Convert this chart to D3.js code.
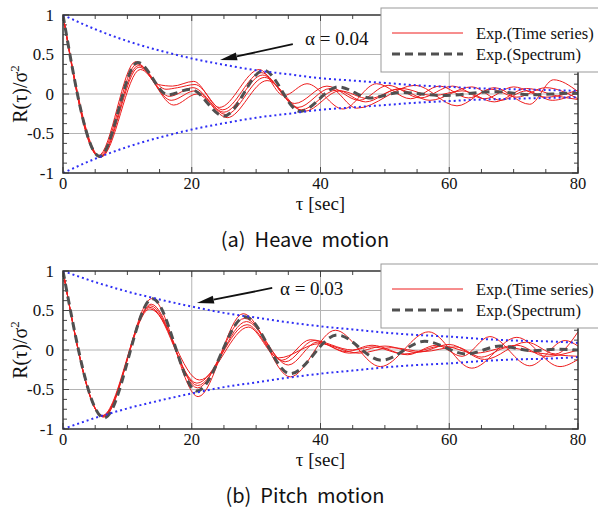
<!DOCTYPE html>
<html>
<head>
<meta charset="utf-8">
<script src="https://cdn.jsdelivr.net/npm/d3@7"></script>
<style>
  body { margin: 0; background: #fff; }
  svg { display: block; }
</style>
</head>
<body>
<svg width="598" height="508"></svg>
<script>
// axis ticks
const tauTicks = [0, 20, 40, 60, 80];
const rTicks = [-1, -0.5, 0, 0.5, 1];
const tauMinor = [0, 5, 10, 15, 20, 25, 30, 35, 40, 45, 50, 55, 60, 65, 70, 75, 80];
const rMinor = [-1, -0.875, -0.75, -0.625, -0.5, -0.375, -0.25, -0.125, 0, 0.125, 0.25, 0.375, 0.5, 0.625, 0.75, 0.875, 1];

// envelope
const envTau = [0, 5, 10, 15, 20, 25, 30, 35, 40, 45, 50, 55, 60, 65, 70, 75, 80];
const heaveEnvelope = [1, 0.82, 0.67, 0.55, 0.45, 0.37, 0.30, 0.25, 0.20, 0.17, 0.14, 0.11, 0.09, 0.07, 0.06, 0.05, 0.04];
const pitchEnvelope = [1, 0.86, 0.74, 0.64, 0.55, 0.47, 0.41, 0.35, 0.30, 0.26, 0.22, 0.19, 0.17, 0.14, 0.12, 0.11, 0.09];

// heave: [tau, R] at the turning points
const heaveSpectrum = [[0,1],[5.7,-0.79],[11.6,0.40],[16.3,-0.01],[19.8,0.06],[25,-0.28],[31.2,0.30],[36.8,-0.22],[42.8,0.09],[47.7,-0.05],[52.4,0.02],[59,-0.02],[67,0.03],[73,-0.01],[79,0.01],[80,0.01]];
const heaveSeries = [
  [[0,1],[5.5,-0.78],[11.3,0.41],[14.8,0.12],[17,0.10],[20.3,0.16],[24.3,-0.17],[30.5,0.31],[34.3,-0.02],[37.9,0.13],[43.5,-0.19],[48.7,0.13],[54,-0.06],[58.5,0.10],[63,-0.05],[67,0.08],[72.5,-0.13],[76.2,0.18],[80,0.03]],
  [[0,1],[5.6,-0.79],[11.5,0.38],[16,0.06],[17.8,0.08],[20.5,0.12],[24.8,-0.20],[30.8,0.27],[36,-0.12],[41,0.10],[46,-0.08],[50.5,0.11],[55.5,-0.05],[60.5,0.10],[65.5,-0.06],[70,0.09],[75,-0.04],[80,0.05]],
  [[0,1],[5.7,-0.80],[11.7,0.36],[16.5,-0.03],[20.2,0.08],[25,-0.23],[31,0.24],[36.5,-0.17],[41.5,0.07],[45.6,-0.18],[54.7,0.11],[61.2,-0.15],[66.5,0.06],[70.5,-0.04],[75,0.08],[80,-0.06]],
  [[0,1],[5.8,-0.80],[11.8,0.34],[16.8,-0.08],[20.5,0.04],[25.3,-0.26],[31.3,0.21],[37,-0.20],[42.5,0.05],[47,-0.10],[52,0.06],[57,-0.08],[63.5,0.09],[68,-0.08],[72,0.04],[76,-0.08],[80,0.02]],
  [[0,1],[5.9,-0.80],[12,0.31],[17.2,-0.14],[20.8,0.00],[25.5,-0.30],[31.7,0.17],[37.5,-0.22],[43,0.04],[47.5,-0.06],[52.5,0.07],[57.5,-0.02],[62,0.04],[67,-0.10],[72,0.07],[77,-0.03],[80,-0.07]]
];

// pitch
const pitchSpectrum = [[0,1],[6.4,-0.86],[13.9,0.65],[20.8,-0.52],[28.3,0.42],[35.3,-0.30],[42.6,0.19],[49.5,-0.13],[56.2,0.11],[62.7,-0.05],[67.9,0.05],[73,-0.01],[76.5,0.01],[80,0]];
const pitchSeries = [
  [[0,1],[6.3,-0.85],[13.8,0.65],[21,-0.59],[28,0.46],[35.3,-0.34],[42.3,0.25],[49.3,-0.21],[56.8,0.23],[63.5,-0.23],[70.5,0.16],[77.2,-0.21],[80,-0.12]],
  [[0,1],[6.2,-0.84],[13.7,0.58],[20.9,-0.48],[28.2,0.40],[35,-0.19],[39.5,0.10],[44,-0.02],[48,0.06],[53.5,-0.06],[58,0.06],[62,-0.08],[66.3,0.17],[72.5,-0.20],[78,0.12],[80,0.05]],
  [[0,1],[6.2,-0.83],[13.6,0.56],[20.9,-0.45],[28.5,0.36],[34.5,-0.15],[39,0.12],[44.5,-0.04],[50,0.05],[55,-0.03],[60,0.07],[65.5,-0.12],[72,0.10],[76.5,-0.05],[80,0.23]],
  [[0,1],[6.1,-0.83],[13.5,0.54],[20.8,-0.42],[28.6,0.32],[34,-0.13],[38.4,0.13],[45,0.00],[48,0.04],[53,-0.05],[59,0.05],[64,-0.04],[70.5,0.06],[75,-0.08],[80,0.00]],
  [[0,1],[6.2,-0.84],[13.5,0.52],[21.2,-0.38],[28.8,0.29],[33.5,-0.10],[39.8,0.08],[46,-0.04],[51,0.03],[56,-0.02],[61,0.04],[65,-0.09],[69,0.03],[74,-0.04],[80,-0.08]]
];

const legendLabels = ["Exp.(Time series)", "Exp.(Spectrum)"];

const panels = [
  { top: 15, caption: "(a)  Heave  motion", spectrum: heaveSpectrum, series: heaveSeries, envelope: heaveEnvelope,
    alpha: "α = 0.04", alphaAt: [37.6, 0.62], arrowFrom: [35.7, 0.63], arrowTo: [24.4, 0.43] },
  { top: 271, caption: "(b)  Pitch  motion", spectrum: pitchSpectrum, series: pitchSeries, envelope: pitchEnvelope,
    alpha: "α = 0.03", alphaAt: [33.7, 0.70], arrowFrom: [32.5, 0.785], arrowTo: [20.8, 0.595] }
];

const svg = d3.select("svg");
const left = 63, right = 578, plotH = 158;
const serif = "'Liberation Serif', 'Times New Roman', serif";

const x = d3.scaleLinear().domain([0, 80]).range([left, right]);

panels.forEach((p, i) => {
  const y = d3.scaleLinear().domain([-1, 1]).range([p.top + plotH, p.top]);
  const g = svg.append("g");

  g.append("clipPath").attr("id", "clip" + i)
    .append("rect").attr("x", left).attr("y", p.top).attr("width", right - left).attr("height", plotH);

  // grid
  g.append("g").selectAll("line").data(tauTicks.slice(1, -1)).enter().append("line")
    .attr("x1", d => x(d)).attr("x2", d => x(d)).attr("y1", p.top).attr("y2", p.top + plotH)
    .attr("stroke", "#b4b4b4").attr("stroke-width", 1);
  g.append("g").selectAll("line").data(rTicks.slice(1, -1)).enter().append("line")
    .attr("x1", left).attr("x2", right).attr("y1", d => y(d)).attr("y2", d => y(d))
    .attr("stroke", "#b4b4b4").attr("stroke-width", 1);

  // inward ticks on all four sides
  const ticks = g.append("g").attr("stroke", "#444").attr("stroke-width", 1);
  tauMinor.forEach(t => {
    const len = tauTicks.includes(t) ? 6 : 4;
    ticks.append("line").attr("x1", x(t)).attr("x2", x(t)).attr("y1", p.top + plotH).attr("y2", p.top + plotH - len);
    ticks.append("line").attr("x1", x(t)).attr("x2", x(t)).attr("y1", p.top).attr("y2", p.top + len);
  });
  rMinor.forEach(r => {
    const len = rTicks.includes(r) ? 6 : 4;
    ticks.append("line").attr("x1", left).attr("x2", left + len).attr("y1", y(r)).attr("y2", y(r));
    ticks.append("line").attr("x1", right).attr("x2", right - len).attr("y1", y(r)).attr("y2", y(r));
  });

  const data = g.append("g").attr("clip-path", `url(#clip${i})`);
  const line = d3.line().x(d => x(d[0])).y(d => y(d[1])).curve(d3.curveMonotoneX);

  p.series.forEach(s => {
    data.append("path").attr("d", line(s)).attr("fill", "none")
      .attr("stroke", "#ee1c1c").attr("stroke-width", 1);
  });
  data.append("path").attr("d", line(p.spectrum)).attr("fill", "none")
    .attr("stroke", "#505050").attr("stroke-width", 3).attr("stroke-dasharray", "8 5");

  const envLine = d3.line().x((d, k) => x(envTau[k])).y(d => y(d)).curve(d3.curveMonotoneX);
  [1, -1].forEach(sign => {
    data.append("path").attr("d", envLine(p.envelope.map(v => sign * v))).attr("fill", "none")
      .attr("stroke", "#2f2ff5").attr("stroke-width", 2).attr("stroke-dasharray", "2 3");
  });

  // frame
  g.append("rect").attr("x", left).attr("y", p.top).attr("width", right - left).attr("height", plotH)
    .attr("fill", "none").attr("stroke", "#333").attr("stroke-width", 1.5);

  // tick labels
  g.append("g").selectAll("text").data(tauTicks).enter().append("text")
    .attr("x", d => x(d)).attr("y", p.top + plotH + 15.5).attr("text-anchor", "middle")
    .attr("font-family", serif).attr("font-size", 16.5).attr("fill", "#111").text(d => d);
  g.append("g").selectAll("text").data(rTicks).enter().append("text")
    .attr("x", left - 9).attr("y", d => y(d)).attr("dy", "0.35em").attr("text-anchor", "end")
    .attr("font-family", serif).attr("font-size", 17).attr("fill", "#111").text(d => d);

  // axis titles
  g.append("text").attr("x", (left + right) / 2).attr("y", p.top + plotH + 37)
    .attr("text-anchor", "middle").attr("font-family", serif).attr("font-size", 19).attr("fill", "#111")
    .text("τ [sec]");
  const yt = g.append("text").attr("transform", `translate(27,${y(0)}) rotate(-90)`)
    .attr("text-anchor", "middle").attr("font-family", serif).attr("font-size", 20).attr("fill", "#111");
  yt.append("tspan").text("R(τ)/σ");
  yt.append("tspan").attr("dy", -8).attr("font-size", 13).text("2");

  // alpha annotation with arrow
  const ax0 = x(p.arrowFrom[0]), ay0 = y(p.arrowFrom[1]);
  const ax1 = x(p.arrowTo[0]), ay1 = y(p.arrowTo[1]);
  const ang = Math.atan2(ay1 - ay0, ax1 - ax0);
  const headL = 17, headW = 4;
  const bx = ax1 - headL * Math.cos(ang), by = ay1 - headL * Math.sin(ang);
  g.append("line").attr("x1", ax0).attr("y1", ay0).attr("x2", bx).attr("y2", by)
    .attr("stroke", "#111").attr("stroke-width", 1.8);
  g.append("polygon")
    .attr("points", [[ax1, ay1],
      [bx + headW * Math.sin(ang), by - headW * Math.cos(ang)],
      [bx - headW * Math.sin(ang), by + headW * Math.cos(ang)]].map(q => q.join(",")).join(" "))
    .attr("fill", "#111");
  g.append("text").attr("x", x(p.alphaAt[0])).attr("y", y(p.alphaAt[1]))
    .attr("font-family", serif).attr("font-size", 19).attr("fill", "#111").text(p.alpha);

  // legend
  const lg = g.append("g");
  lg.append("rect").attr("x", 381).attr("y", p.top - 7).attr("width", 230).attr("height", 64)
    .attr("fill", "#fff").attr("stroke", "#999").attr("stroke-width", 1);
  lg.append("line").attr("x1", 392).attr("x2", 463).attr("y1", p.top + 18).attr("y2", p.top + 18)
    .attr("stroke", "#ee1c1c").attr("stroke-width", 1);
  lg.append("line").attr("x1", 392).attr("x2", 463).attr("y1", p.top + 39).attr("y2", p.top + 39)
    .attr("stroke", "#505050").attr("stroke-width", 3).attr("stroke-dasharray", "8 5");
  lg.selectAll("text").data(legendLabels).enter().append("text")
    .attr("x", 476).attr("y", (d, k) => p.top + 24 + k * 21)
    .attr("font-family", serif).attr("font-size", 16.5).attr("fill", "#111").text(d => d);

  // caption
  g.append("text").attr("x", 305).attr("y", p.top + plotH + 74).attr("text-anchor", "middle")
    .attr("font-family", "'Noto Sans CJK KR', 'Liberation Sans', sans-serif").attr("font-size", 20)
    .attr("fill", "#111").attr("xml:space", "preserve").style("white-space", "pre").text(p.caption);
});
</script>
</body>
</html>
